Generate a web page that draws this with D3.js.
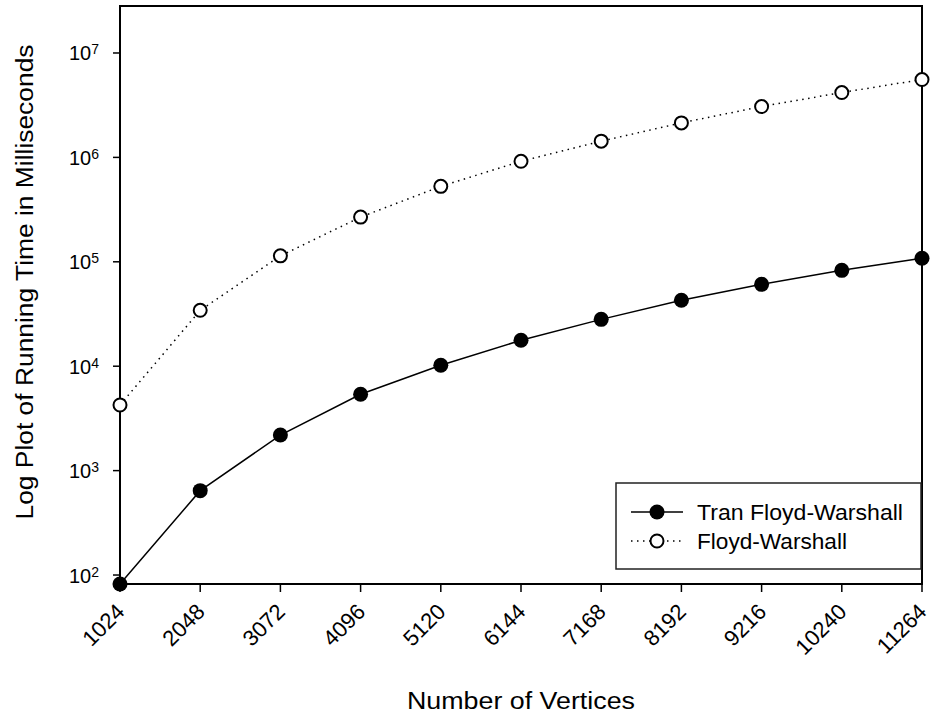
<!DOCTYPE html>
<html><head><meta charset="utf-8">
<script src="https://cdn.jsdelivr.net/npm/d3@7"></script>
<style>body{margin:0;background:#fff}svg{display:block}text{font-family:Arial,"Liberation Sans",sans-serif;fill:#000}</style>
</head><body>
<svg id="c" width="933" height="720"></svg>
<script>
const vertices = [1024, 2048, 3072, 4096, 5120, 6144, 7168, 8192, 9216, 10240, 11264];
const tranFW = [82, 643, 2190, 5380, 10200, 17700, 28100, 42800, 60800, 82800, 108000];
const floydW = [4250, 34300, 114000, 268000, 528000, 918000, 1430000, 2140000, 3070000, 4180000, 5570000];
const yTickExps = [2, 3, 4, 5, 6, 7];
const seriesNames = ["Tran Floyd-Warshall", "Floyd-Warshall"];

const svg = d3.select("#c");
const L = 120, R = 922, T = 6, B = 584;
const x = d3.scaleLinear().domain([1024, 11264]).range([L, R]);
const y = d3.scaleLog().domain([Math.pow(10, 1.914), Math.pow(10, 7.45)]).range([B, T]);

// frame
svg.append("rect").attr("x", L).attr("y", T).attr("width", R - L).attr("height", B - T)
  .attr("fill", "none").attr("stroke", "#000").attr("stroke-width", 2);

// y axis ticks
const gy = svg.append("g");
yTickExps.forEach(e => {
  const yy = y(Math.pow(10, e));
  gy.append("line").attr("x1", L - 7).attr("x2", L).attr("y1", yy).attr("y2", yy)
    .attr("stroke", "#000").attr("stroke-width", 1.5);
  const t = gy.append("text").attr("x", 99).attr("y", yy + 7.5).attr("text-anchor", "end")
    .style("font-size", "20px");
  t.append("tspan").text("10");
  t.append("tspan").attr("dy", -6).style("font-size", "14px").text(e);
});

// x axis ticks
const gx = svg.append("g");
vertices.forEach(v => {
  const xx = x(v);
  gx.append("line").attr("x1", xx).attr("x2", xx).attr("y1", B).attr("y2", B + 8)
    .attr("stroke", "#000").attr("stroke-width", 1.5);
  gx.append("text").attr("transform", `translate(${xx + 6},${B + 29}) rotate(-45)`)
    .attr("text-anchor", "end").style("font-size", "22px").text(v);
});

// titles
svg.append("text").attr("x", (L + R) / 2).attr("y", 709).attr("text-anchor", "middle")
  .style("font-size", "23px").attr("textLength", 228).attr("lengthAdjust", "spacingAndGlyphs")
  .text("Number of Vertices");
svg.append("text").attr("transform", "translate(33,282) rotate(-90)").attr("text-anchor", "middle")
  .style("font-size", "23px").attr("textLength", 475).attr("lengthAdjust", "spacingAndGlyphs")
  .text("Log Plot of Running Time in Milliseconds");

// lines
const line = d3.line().x(d => x(d[0])).y(d => y(d[1]));
const d1 = vertices.map((v, i) => [v, tranFW[i]]);
const d2 = vertices.map((v, i) => [v, floydW[i]]);
svg.append("path").attr("d", line(d2)).attr("fill", "none").attr("stroke", "#000")
  .attr("stroke-width", 1.5).attr("stroke-dasharray", "1.5,4.5");
svg.append("path").attr("d", line(d1)).attr("fill", "none").attr("stroke", "#000")
  .attr("stroke-width", 1.5);
svg.append("g").selectAll("circle").data(d2).join("circle")
  .attr("cx", d => x(d[0])).attr("cy", d => y(d[1])).attr("r", 6.5)
  .attr("fill", "#fff").attr("stroke", "#000").attr("stroke-width", 2);
svg.append("g").selectAll("circle").data(d1).join("circle")
  .attr("cx", d => x(d[0])).attr("cy", d => y(d[1])).attr("r", 7.5)
  .attr("fill", "#000");

// legend
const lg = svg.append("g");
lg.append("rect").attr("x", 616).attr("y", 483).attr("width", 305).attr("height", 86)
  .attr("fill", "#fff").attr("stroke", "#222").attr("stroke-width", 1.5);
const rows = [512, 541];
lg.append("line").attr("x1", 631).attr("x2", 683).attr("y1", rows[0]).attr("y2", rows[0])
  .attr("stroke", "#000").attr("stroke-width", 1.5);
lg.append("circle").attr("cx", 657).attr("cy", rows[0]).attr("r", 7.5).attr("fill", "#000");
lg.append("line").attr("x1", 631).attr("x2", 683).attr("y1", rows[1]).attr("y2", rows[1])
  .attr("stroke", "#000").attr("stroke-width", 1.5).attr("stroke-dasharray", "1.5,4.5");
lg.append("circle").attr("cx", 657).attr("cy", rows[1]).attr("r", 6.5)
  .attr("fill", "#fff").attr("stroke", "#000").attr("stroke-width", 2);
const legendWidths = [206, 150];
seriesNames.forEach((n, i) => {
  lg.append("text").attr("x", 697).attr("y", rows[i] + 8).style("font-size", "22px")
    .attr("textLength", legendWidths[i]).attr("lengthAdjust", "spacingAndGlyphs").text(n);
});
</script>
</body></html>
